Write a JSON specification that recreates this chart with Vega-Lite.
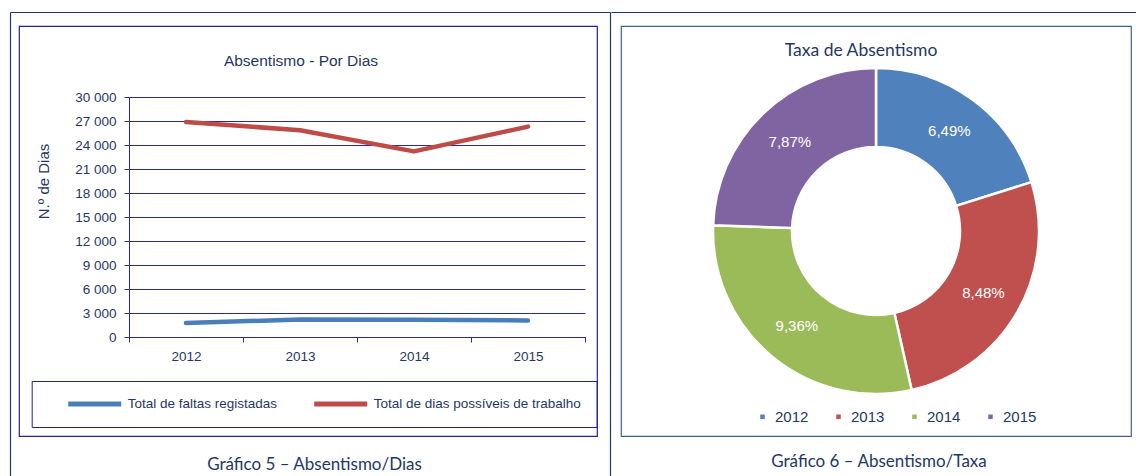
{
  "$schema": "https://vega.github.io/schema/vega-lite/v6.json",
  "padding": {"left": 9, "top": 11, "right": 0, "bottom": 0},
  "autosize": {"type": "pad"},
  "background": "white",
  "spacing": -10,
  "config": {
    "locale": {"number": {"decimal": ",", "thousands": " ", "grouping": [3], "currency": ["", " €"]}},
    "font": "Liberation Sans, Arial, sans-serif"
  },
  "resolve": {"scale": {"color": "independent"}, "legend": {"color": "independent"}},
  "hconcat": [
    {
      "title": {"text": "Gráfico 5 – Absentismo/Dias", "orient": "bottom", "anchor": "middle", "offset": -35, "font": "Lato", "fontSize": 17, "fontWeight": "normal", "color": "#1f3864"},
      "vconcat": [
        {
          "width": 578,
          "height": 410,
          "view": {"stroke": "#22229a", "strokeWidth": 1.2},
          "title": {"text": "Absentismo - Por Dias", "orient": "top", "anchor": "middle", "frame": "group", "offset": -57, "dx": -7, "font": "Liberation Sans", "fontSize": 15.5, "fontWeight": "normal", "color": "#1f3864"},
          "data": {"values": [
            {"ano": "2012", "serie": "Total de faltas registadas", "dias": 1745},
            {"ano": "2013", "serie": "Total de faltas registadas", "dias": 2195},
            {"ano": "2014", "serie": "Total de faltas registadas", "dias": 2170},
            {"ano": "2015", "serie": "Total de faltas registadas", "dias": 2070},
            {"ano": "2012", "serie": "Total de dias possíveis de trabalho", "dias": 26880},
            {"ano": "2013", "serie": "Total de dias possíveis de trabalho", "dias": 25850},
            {"ano": "2014", "serie": "Total de dias possíveis de trabalho", "dias": 23200},
            {"ano": "2015", "serie": "Total de dias possíveis de trabalho", "dias": 26300}
          ]},
          "layer": [
            {
              "mark": {"type": "line", "strokeWidth": 4.5, "strokeCap": "round", "strokeJoin": "round"},
              "encoding": {
                "x": {
                  "field": "ano", "type": "ordinal", "bandPosition": 0.5,
                  "scale": {"type": "band", "range": [110, 566], "paddingInner": 0, "paddingOuter": 0},
                  "axis": {"orient": "bottom", "title": null, "offset": -99, "tickBand": "extent", "grid": false, "labelAngle": 0,
                    "domainColor": "#2a2aa0", "tickColor": "#2a2aa0", "tickSize": 5, "labelPadding": 7,
                    "labelFontSize": 13.5, "labelColor": "#1f3864"}
                },
                "y": {
                  "field": "dias", "type": "quantitative",
                  "scale": {"domain": [0, 30000], "range": [311, 71], "nice": false, "zero": true},
                  "axis": {"orient": "left", "title": "N.º de Dias", "offset": -110, "values": [0, 3000, 6000, 9000, 12000, 15000, 18000, 21000, 24000, 27000, 30000],
                    "format": ",d", "grid": true, "gridColor": "#2a2aa0", "gridOpacity": 1, "gridWidth": 1,
                    "domainColor": "#2a2aa0", "tickColor": "#2a2aa0", "tickSize": 5, "labelPadding": 8,
                    "labelFontSize": 13.5, "labelColor": "#1f3864",
                    "titleFontSize": 15, "titleFontWeight": "normal", "titleColor": "#1f3864",
                    "titleX": -86, "titleY": 155, "titleBaseline": "middle", "titleAlign": "center", "titleAngle": -90}
                },
                "color": {
                  "field": "serie", "type": "nominal",
                  "scale": {"domain": ["Total de faltas registadas", "Total de dias possíveis de trabalho"], "range": ["#4a7ebb", "#be4b48"]},
                  "legend": {"orient": "none", "legendX": 12.7, "legendY": 355, "direction": "horizontal",
                    "title": " ", "titleOrient": "left", "titleFontSize": 1, "titlePadding": 19,
                    "strokeColor": "#22229a", "padding": 15, "symbolType": "stroke", "symbolSize": 2809, "symbolStrokeWidth": 5,
                    "clipHeight": 16,
                    "labelFontSize": 13.5, "labelColor": "#1f3864", "labelOffset": 4, "columnPadding": 34, "labelLimit": 400}
                }
              }
            },
            {
              "mark": {"type": "point", "opacity": 0, "size": 0},
              "encoding": {
                "x": {"datum": 0, "type": "quantitative", "scale": {"domain": [0, 1], "range": [-9, 591]},
                  "axis": {"orient": "top", "offset": 14, "title": null, "labels": false, "ticks": false, "grid": false, "domain": true, "domainColor": "#1f3864", "domainWidth": 1.2}},
                "y": {"datum": 0, "type": "quantitative", "scale": {"domain": [0, 1], "range": [451, -14]},
                  "axis": {"orient": "left", "offset": 9, "title": null, "labels": false, "ticks": false, "grid": false, "domain": true, "domainColor": "#1f3864", "domainWidth": 1.2}}
              }
            },
            {
              "mark": {"type": "point", "opacity": 0, "size": 0},
              "encoding": {
                "y": {"datum": 0, "type": "quantitative", "scale": {"domain": [0, 1], "range": [451, -14]},
                  "axis": {"orient": "right", "offset": 13, "title": null, "labels": false, "ticks": false, "grid": false, "domain": true, "domainColor": "#1f3864", "domainWidth": 1.2}}
              }
            }
          ],
          "resolve": {"scale": {"x": "independent", "y": "independent"}, "axis": {"x": "independent", "y": "independent"}}
        }
      ]
    },
    {
      "title": {"text": "Gráfico 6 – Absentismo/Taxa", "orient": "bottom", "anchor": "middle", "offset": 17, "font": "Lato", "fontSize": 17, "fontWeight": "normal", "color": "#1f3864"},
      "vconcat": [
        {
          "width": 510,
          "height": 410,
          "view": {"stroke": "#42618a", "strokeWidth": 1.2},
          "title": {"text": "Taxa de Absentismo", "orient": "top", "anchor": "middle", "frame": "group", "offset": -47, "dx": -15, "font": "Lato", "fontSize": 17.5, "fontWeight": "normal", "color": "#1f3864"},
          "data": {"values": [
            {"ano": "2012", "taxa": 0.0649},
            {"ano": "2013", "taxa": 0.0848},
            {"ano": "2014", "taxa": 0.0936},
            {"ano": "2015", "taxa": 0.0787}
          ]},
          "layer": [
            {
              "mark": {"type": "arc", "outerRadius": 163, "innerRadius": 84, "stroke": "white", "strokeWidth": 2.5},
              "encoding": {
                "theta": {"field": "taxa", "type": "quantitative", "stack": true},
                "order": {"field": "ano", "type": "ordinal", "sort": "ascending"},
                "color": {
                  "field": "ano", "type": "nominal",
                  "scale": {"domain": ["2012", "2013", "2014", "2015"], "range": ["#4f81bd", "#c0504d", "#9bbb59", "#8064a2"]},
                  "legend": {"orient": "none", "legendX": 134, "legendY": 383, "direction": "horizontal", "title": null,
                    "symbolType": "square", "symbolSize": 36, "labelFontSize": 15, "labelColor": "#1f3864",
                    "labelOffset": 5, "columnPadding": 22}
                }
              }
            },
            {
              "mark": {"type": "text", "radius": 124, "fill": "white", "fontSize": 15},
              "encoding": {
                "theta": {"field": "taxa", "type": "quantitative", "stack": true},
                "order": {"field": "ano", "type": "ordinal", "sort": "ascending"},
                "detail": {"field": "ano", "type": "nominal"},
                "text": {"field": "taxa", "type": "quantitative", "format": ".2%"}
              }
            },
            {
              "mark": {"type": "point", "opacity": 0, "size": 0},
              "encoding": {
                "x": {"datum": 0, "type": "quantitative", "scale": {"domain": [0, 1], "range": [-10, 516]},
                  "axis": {"orient": "top", "offset": 14, "title": null, "labels": false, "ticks": false, "grid": false, "domain": true, "domainColor": "#1f3864", "domainWidth": 1.2}}
              }
            }
          ]
        }
      ]
    }
  ]
}
